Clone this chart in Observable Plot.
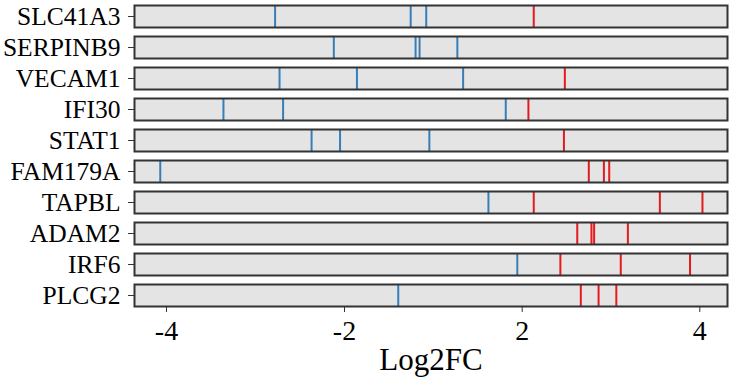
<!DOCTYPE html>
<html>
<head>
<meta charset="utf-8">
<script src="https://cdn.jsdelivr.net/npm/d3@7"></script>
<script src="https://cdn.jsdelivr.net/npm/@observablehq/plot@0.6"></script>
<style>
  html, body { margin: 0; padding: 0; background: #fff; }
  #chart svg { display: block; }
  #chart svg, #chart svg text { font-family: "Liberation Serif", "DejaVu Serif", serif !important; }
</style>
</head>
<body>
<div id="chart"></div>
<script>
const genes = ["SLC41A3","SERPINB9","VECAM1","IFI30","STAT1","FAM179A","TAPBL","ADAM2","IRF6","PLCG2"];
// Log2FC values, per gene, split by colour group
const downValues = [
  [-2.78, -0.51, -0.16],
  [-2.12, -0.40, -0.31, 0.54],
  [-2.73, -1.72, 0.67],
  [-3.36, -2.69, 1.63],
  [-2.37, -2.05, -0.09],
  [-4.07],
  [1.24],
  [],
  [1.89],
  [-0.79]
];
const upValues = [
  [2.13],
  [],
  [2.48],
  [2.07],
  [2.47],
  [2.75, 2.92, 2.98],
  [2.13, 3.55, 4.03],
  [2.62, 2.78, 2.81, 3.19],
  [2.43, 3.11, 3.89],
  [2.66, 2.86, 3.06]
];
const xTicks = [-4, -2, 2, 4];
const xTitle = "Log2FC";

const rows = [];
genes.forEach((g, i) => {
  downValues[i].forEach(v => rows.push({gene: g, log2fc: v, dir: "down"}));
  upValues[i].forEach(v => rows.push({gene: g, log2fc: v, dir: "up"}));
});

const font = "Liberation Serif";

const chart = Plot.plot({
  width: 736,
  height: 386,
  marginTop: 3,
  marginBottom: 78,
  marginLeft: 134,
  marginRight: 9,
  style: {fontFamily: font, background: "#fff", color: "#000"},
  x: {type: "linear", domain: xTicks, range: [166, 344, 521.7, 699.3]},
  fy: {domain: genes, paddingInner: 0.28, paddingOuter: 0, label: null},
  color: {domain: ["down", "up"], range: ["#377EB8", "#E41A1C"]},
  marks: [
    Plot.frame({fill: "#e4e4e4"}),
    Plot.ruleX(rows, {x: "log2fc", fy: "gene", stroke: "dir", strokeWidth: 2}),
    Plot.frame({stroke: "#333333", strokeWidth: 2}),
    Plot.axisFy({anchor: "left", label: null, tickSize: 6, tickPadding: 8, fontSize: 25.5, fontFamily: font, stroke: "#333", fill: "#000"}),
    Plot.axisX({ticks: xTicks, tickFormat: d => d < 0 ? "-" + Math.abs(d) : String(d), tickSize: 6, tickPadding: 8, fontSize: 28, fontFamily: font, stroke: "#333", fill: "#000", label: null}),
    Plot.text([xTitle], {text: d => d, facet: "super", frameAnchor: "bottom", dy: 63, fontSize: 31, fontFamily: font, fill: "#000", lineAnchor: "bottom"})
  ]
});
document.getElementById("chart").appendChild(chart);
</script>
</body>
</html>
